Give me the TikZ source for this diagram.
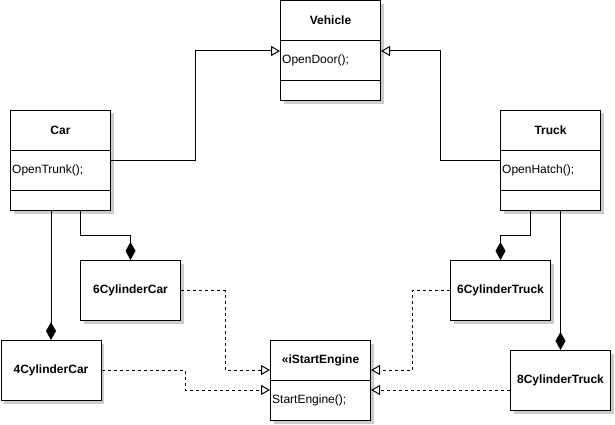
\documentclass[tikz,border=0pt]{standalone}
\usepackage{fontspec}
\setmainfont{Liberation Sans}
\usetikzlibrary{arrows.meta,shadows,calc}
\begin{document}
\begin{tikzpicture}[x=1pt,y=-1pt,
  box/.style={draw, line width=1pt, fill=white, anchor=north west, inner sep=0pt,
    minimum width=100pt, drop shadow={shadow xshift=3pt,shadow yshift=-3pt,fill=black!20,opacity=1}},
  classbox/.style={box, minimum height=100pt},
  partbox/.style={box, minimum height=60pt, font=\fontsize{12}{14}\selectfont\bfseries},
  ttl/.style={font=\fontsize{12}{14}\selectfont\bfseries, inner sep=0pt},
  meth/.style={font=\fontsize{12}{14}\selectfont, inner sep=0pt, anchor=west},
  sep/.style={line width=1pt},
  gen/.style={line width=1pt, -{Triangle[open,length=9pt,width=10pt]}},
  real/.style={line width=1pt, dash pattern=on 3pt off 3pt, -{Triangle[open,length=9pt,width=10pt]}},
  comp/.style={line width=1pt, -{Diamond[length=18pt,width=10pt]}}]
\useasboundingbox (0,0) rectangle (615,425);

% class boxes
\node[classbox] (veh) at (280,0.5) {};
\node[classbox] (car) at (10,110) {};
\node[classbox] (truck) at (500,110) {};
\node[box, minimum height=80pt] (ise) at (270,340) {};

\foreach \n in {veh,car,truck}{
  \draw[sep] ($(\n.north west)+(0,40)$) -- ($(\n.north east)+(0,40)$);
  \draw[sep] ($(\n.north west)+(0,80)$) -- ($(\n.north east)+(0,80)$);
}
\draw[sep] ($(ise.north west)+(0,40)$) -- ($(ise.north east)+(0,40)$);

\node[ttl] (vehT) at ($(veh.north)+(0,20)$) {Vehicle};
\node[meth] (vehM) at ($(veh.north west)+(2,60)$) {OpenDoor();};
\node[ttl] (carT) at ($(car.north)+(0,20)$) {Car};
\node[meth] (carM) at ($(car.north west)+(2,60)$) {OpenTrunk();};
\node[ttl] (truckT) at ($(truck.north)+(0,20)$) {Truck};
\node[meth] (truckM) at ($(truck.north west)+(2,60)$) {OpenHatch();};
\node[ttl] (iseT) at ($(ise.north)+(0,20)$) {«iStartEngine};
\node[meth] (iseM) at ($(ise.north west)+(2,60)$) {StartEngine();};

% part boxes
\node[partbox] (c6) at (80,260) {6CylinderCar};
\node[partbox] (c4) at (0.5,340) {4CylinderCar};
\node[partbox] (t6) at (450,260) {6CylinderTruck};
\node[partbox] (t8) at (510,350) {8CylinderTruck};

% generalization
\draw[gen] (car.east) -| ($(car.east)!.5!(veh.west)$) |- (veh.west);
\draw[gen] (truck.east -| truck.west) -| ($(truck.west)!.5!(veh.east)$) |- (veh.east);

% composition
\draw[comp] (car.south west -| c4.north) -- (c4.north);
\draw[comp] ($(car.south west)+(70,0)$) |- ($(c6.north)+(0,-25)$) -- (c6.north);
\draw[comp] ($(truck.south west)+(30,0)$) |- ($(t6.north)+(0,-25)$) -- (t6.north);
\draw[comp] (truck.south west -| t8.north) -- (t8.north);

% realization
\draw[real] (c6.east) -| ($(ise.north west)+(-45,30)$) -- ($(ise.north west)+(0,30)$);
\draw[real] (c4.east) -| ($(ise.north west)+(-85,50)$) -- ($(ise.north west)+(0,50)$);
\draw[real] (t6.west) -| ($(ise.north east)+(41,30)$) -- ($(ise.north east)+(0,30)$);
\draw[real] ($(t8.north west)+(0,40)$) -- ($(ise.north east)+(0,50)$);
\end{tikzpicture}
\end{document}
